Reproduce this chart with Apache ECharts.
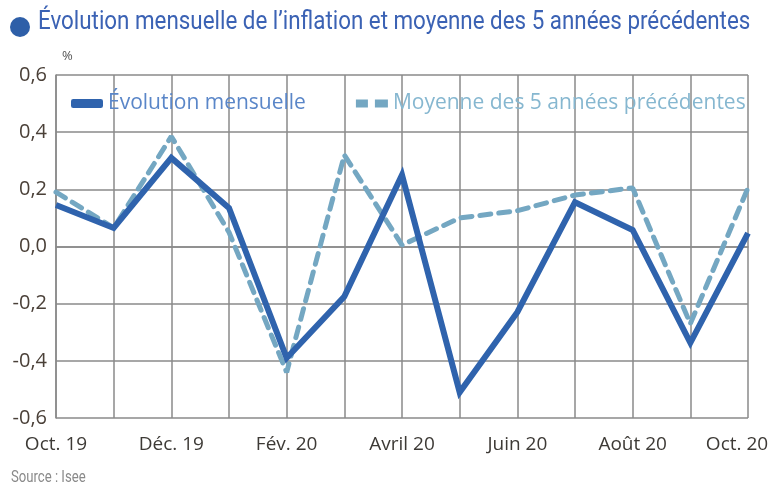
<!DOCTYPE html>
<html>
<head>
<meta charset="utf-8">
<script src="https://cdn.jsdelivr.net/npm/echarts@6/dist/echarts.min.js"></script>
<style>
  html, body { margin: 0; padding: 0; background: #fff; }
  #chart { width: 776px; height: 492px; }
</style>
</head>
<body>
<div id="chart"></div>
<script>
// mois (axe des x)
const months = ["Oct. 19", "Nov. 19", "Déc. 19", "Janv. 20", "Fév. 20", "Mars 20", "Avril 20",
  "Mai 20", "Juin 20", "Juil. 20", "Août 20", "Sept. 20", "Oct. 20"];
// évolution mensuelle de l'inflation (%)
const evolution = [0.145, 0.065, 0.31, 0.135, -0.39, -0.175, 0.25, -0.51, -0.23, 0.155, 0.058, -0.337, 0.047];
// moyenne des 5 années précédentes (%)
const moyenne = [0.19, 0.065, 0.385, 0.05, -0.44, 0.32, 0.005, 0.1, 0.125, 0.18, 0.205, -0.27, 0.205];

const darkBlue = "#2f63ad";
const lightBlue = "#74a7c2";
const gridGray = "#8a8a8a";
const labelFont = { color: "#3d3a36", fontSize: 19, fontFamily: "Open Sans" };

const chart = echarts.init(document.getElementById("chart"));

chart.setOption({
  animation: false,
  backgroundColor: "#fff",
  graphic: [
    // puce ronde du titre
    { type: "circle", shape: { cx: 20, cy: 27, r: 10 }, style: { fill: "#2e5fa8" } },
    {
      type: "text", x: 38, y: 9, scaleX: 0.86,
      style: {
        text: "Évolution mensuelle de l’inflation et moyenne des 5 années précédentes",
        fill: "#3b62b4", fontSize: 26, fontFamily: "Roboto"
      }
    },
    { type: "text", x: 62, y: 50, style: { text: "%", fill: "#555", fontSize: 13, fontFamily: "Open Sans" } },
    { type: "text", x: 11, y: 470, scaleX: 0.82, style: { text: "Source : Isee", fill: "#8a8a8a", fontSize: 16, fontFamily: "Roboto" } }
  ],
  legend: {
    top: 88,
    left: 66,
    itemWidth: 32,
    itemHeight: 9,
    itemGap: 50,
    textStyle: { fontSize: 21, fontFamily: "Open Sans" },
    data: [
      { name: "Évolution mensuelle", icon: "roundRect", textStyle: { color: "#5a86c8" } },
      {
        name: "Moyenne des 5 années précédentes",
        icon: "path://M0,0h12v8h-12z M19,0h13v8h-13z",
        textStyle: { color: "#86b7d0" }
      }
    ]
  },
  grid: { left: 56, right: 28, top: 75, bottom: 74, outerBoundsMode: "none" },
  xAxis: {
    type: "category",
    data: months,
    boundaryGap: false,
    axisLine: { lineStyle: { color: gridGray, width: 1.5 } },
    axisTick: { show: false },
    axisLabel: {
      interval: 1, margin: 17, ...labelFont,
      // le dernier libellé est décalé vers la gauche pour rester dans le cadre
      formatter: (v, i) => (i === months.length - 1 ? "{last|" + v + "}" : v),
      rich: { last: { ...labelFont, padding: [0, 22, 0, 0] } }
    },
    splitLine: { show: true, interval: 0, lineStyle: { color: gridGray, width: 1.5 } }
  },
  yAxis: {
    type: "value",
    min: -0.6,
    max: 0.6,
    interval: 0.2,
    axisLine: { show: true, lineStyle: { color: gridGray, width: 1.5 } },
    axisTick: { show: false },
    axisLabel: {
      color: "#4a4038", fontSize: 20, fontFamily: "Open Sans", margin: 9,
      formatter: (v) => v.toFixed(1).replace(".", ",").replace("-0,0", "0,0")
    },
    splitLine: { lineStyle: { color: gridGray, width: 1.5 } }
  },
  series: [
    {
      name: "Moyenne des 5 années précédentes",
      type: "line",
      data: moyenne,
      symbol: "none",
      z: 2,
      itemStyle: { color: lightBlue },
      lineStyle: { color: lightBlue, width: 5, type: [11, 8], cap: "round" }
    },
    {
      name: "Évolution mensuelle",
      type: "line",
      data: evolution,
      symbol: "none",
      z: 3,
      itemStyle: { color: darkBlue },
      lineStyle: { color: darkBlue, width: 6, join: "miter" }
    }
  ]
});
</script>
</body>
</html>
